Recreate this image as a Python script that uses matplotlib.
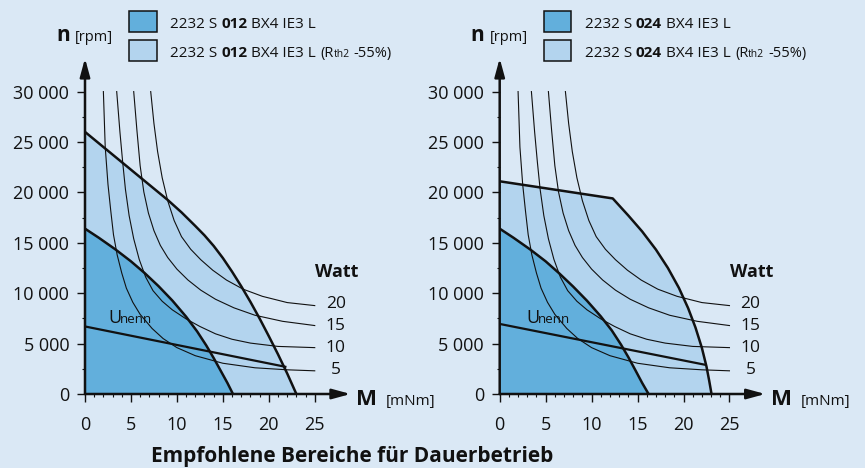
import matplotlib
matplotlib.use("Agg")
import matplotlib.pyplot as plt
from matplotlib.offsetbox import TextArea, HPacker, AnnotationBbox
from matplotlib.patches import Rectangle

plt.rcParams["font.family"] = ["Open Sans", "DejaVu Sans"]

BG = "#dae8f5"
LIGHT = "#b3d4ee"
DARK = "#62afdc"
INK = "#111111"

# Achsen
x_ticks = [0, 5, 10, 15, 20, 25]
x_minor = list(range(0, 26))
y_ticks = [0, 5000, 10000, 15000, 20000, 25000, 30000]
y_minor = [2500, 7500, 12500, 17500, 22500, 27500]
y_tick_labels = ["0", "5 000", "10 000", "15 000", "20 000", "25 000", "30 000"]

# 2232 S 012 BX4 IE3 L
m_light_012 = [0, 3, 6, 9, 10.5, 12, 13, 14, 15, 16, 17, 18, 19, 20, 21, 22, 23.0]
n_light_012 = [26000, 23750, 21500, 19250, 18020, 16670, 15740, 14690, 13490, 12140, 10690, 9140,
               7490, 5740, 3940, 2040, 0]
m_dark_012 = [0, 1.5, 3.3, 5, 6.5, 8, 9.5, 11, 12.2, 13.2, 14, 14.8, 15.5, 16.1]
n_dark_012 = [16400, 15500, 14350, 13160, 11990, 10700, 9275, 7670, 6210, 4810, 3570, 2250, 1090, 0]
m_unenn_012 = [0, 21.8]
n_unenn_012 = [6700, 2700]

# 2232 S 024 BX4 IE3 L
m_light_024 = [0, 12.3, 14, 15.5, 17, 18.3, 19.5, 20.5, 21.3, 22, 22.5, 22.8, 23.05]
n_light_024 = [21100, 19400, 17700, 16125, 14325, 12505, 10525, 8525, 6605, 4575, 2725, 1300, 0]
m_dark_024 = [0, 1.5, 3.3, 5, 6.5, 8, 9.5, 11, 12.2, 13.2, 14, 14.8, 15.5, 16.2]
n_dark_024 = [16400, 15500, 14350, 13160, 11950, 10650, 9250, 7700, 6300, 4900, 3650, 2300, 1100, 0]
m_unenn_024 = [0, 22.35]
n_unenn_024 = [6950, 2900]

# Leistungskurven (Watt)
watt_levels = [5, 10, 15, 20]
m_5w = [2.0, 2.2, 2.5, 2.8, 3.1, 3.5, 4.0, 4.5, 5.2, 6.0, 7.3, 8.5, 10, 12, 15, 18.5, 22, 25]
n_5w = [30000, 24500, 20800, 18200, 15800, 13800, 12000, 10500, 9100, 7900, 6500, 5500, 4600,
        3800, 3050, 2600, 2400, 2300]
m_10w = [3.45, 3.8, 4.1, 4.4, 4.8, 5.3, 5.9, 6.6, 7.4, 8.4, 9.5, 11, 12.5, 14.2, 16, 18, 21, 25]
n_10w = [30000, 26000, 23000, 20300, 17700, 15400, 13350, 11600, 10250, 9200, 8350, 7450, 6700,
         5970, 5430, 5050, 4720, 4600]
m_15w = [5.3, 5.65, 6.0, 6.4, 6.9, 7.5, 8.2, 9.0, 10.0, 11.2, 12.6, 14.2, 16.2, 18.5, 21.5, 25]
n_15w = [30000, 26150, 22650, 20050, 17950, 16210, 14740, 13540, 12390, 11310, 10300, 9400, 8550,
         7810, 7210, 6790]
m_20w = [7.15, 7.5, 7.9, 8.4, 9.0, 9.7, 10.5, 11.5, 12.6, 13.9, 15.4, 17.2, 19.3, 22, 25]
n_20w = [30000, 26850, 24050, 21450, 19170, 17210, 15610, 14360, 13320, 12280, 11300, 10400, 9690,
         9070, 8770]
watt_label_n = [2380, 4590, 6780, 8930]

title = "Empfohlene Bereiche für Dauerbetrieb"

W, H = 865, 468
XMAX, YMAX = 28.9, 33300

fig = plt.figure(figsize=(W / 100, H / 100), dpi=100, facecolor=BG)


def fpos(x, y):
    # Pixel (von oben links) -> figure fraction
    return x / W, 1 - y / H


def legend_label(code, rth):
    norm = dict(size=11, color=INK)
    parts = [TextArea("2232 S", textprops=norm),
             TextArea(code, textprops=dict(size=11, color=INK, weight="bold")),
             TextArea("BX4 IE3 L", textprops=norm)]
    if rth:
        parts.append(HPacker(children=[TextArea("(R", textprops=dict(size=10.5, color=INK)),
                                       TextArea("th2", textprops=dict(size=7.5, color=INK))],
                             align="baseline", pad=0, sep=0))
        parts.append(TextArea("-55%)", textprops=dict(size=10.5, color=INK)))
    return HPacker(children=parts, align="baseline", pad=0, sep=2.9)


def draw_panel(left, m_light, n_light, m_dark, n_dark, m_unenn, n_unenn, u_pos, code):
    ax = fig.add_axes([left / W, 74 / H, XMAX * 9.19 / W, YMAX / 99.2 / H])
    ax.set_facecolor("none")
    ax.set_xlim(0, XMAX)
    ax.set_ylim(0, YMAX)
    for s in ax.spines.values():
        s.set_visible(False)

    ax.fill_between(m_light, n_light, 0, color=LIGHT, lw=0, zorder=1)
    ax.fill_between(m_dark, n_dark, 0, color=DARK, lw=0, zorder=2)
    for m, n in [(m_5w, n_5w), (m_10w, n_10w), (m_15w, n_15w), (m_20w, n_20w)]:
        ax.plot(m, n, color=INK, lw=0.8, zorder=3)
    ax.plot(m_light, n_light, color=INK, lw=1.8, zorder=4)
    ax.plot(m_dark, n_dark, color=INK, lw=1.8, zorder=4)
    ax.plot(m_unenn, n_unenn, color=INK, lw=1.6, zorder=4)

    arrow = dict(arrowstyle="-|>,head_length=1.1,head_width=0.3", color=INK, lw=1.8,
                 shrinkA=0, shrinkB=0, mutation_scale=10)
    ax.annotate("", xy=(XMAX, 0), xytext=(0, 0), arrowprops=arrow, annotation_clip=False, zorder=6)
    ax.annotate("", xy=(0, YMAX), xytext=(0, 0), arrowprops=arrow, annotation_clip=False, zorder=6)

    ax.set_xticks(x_ticks)
    ax.set_xticks(x_minor, minor=True)
    ax.set_yticks(y_ticks)
    ax.set_yticks(y_minor, minor=True)
    ax.set_yticklabels(y_tick_labels)
    ax.tick_params(which="major", direction="out", length=5.8, width=1.0, color=INK,
                   labelsize=13, labelcolor=INK)
    ax.tick_params(which="minor", direction="out", length=2.4, width=0.8, color=INK)
    ax.tick_params(axis="x", which="major", pad=10)
    ax.tick_params(axis="y", which="major", pad=5.5)

    # Watt Beschriftung
    ax.text(27.37, 12130, "Watt", ha="center", va="center", fontsize=13, fontweight="bold",
            color=INK, clip_on=False)
    for w, n in zip(watt_levels, watt_label_n):
        ax.text(27.3, n, str(w), ha="center", va="center", fontsize=12.5, color=INK, clip_on=False)

    # U nenn
    ax.text(u_pos[0], u_pos[2], "U", fontsize=13, va="baseline", color=INK)
    ax.text(u_pos[1], u_pos[2], "nenn", fontsize=9.5, va="baseline", color=INK)

    # Achsenbeschriftung
    x0 = left - 85
    fig.text(*fpos(x0 + 56, 40.7), "n", fontsize=15, fontweight="bold", va="baseline", color=INK)
    fig.text(*fpos(x0 + 75, 40.7), "[rpm]", fontsize=10.5, va="baseline", color=INK)
    fig.text(*fpos(x0 + 356, 405), "M", fontsize=16, fontweight="bold", va="baseline", color=INK)
    fig.text(*fpos(x0 + 386, 405), "[mNm]", fontsize=11, va="baseline", color=INK)

    # Legende
    for (y_top, y_bot, fc, rth, y_txt) in [(10.7, 31.7, DARK, False, 24.3), (40, 60.7, LIGHT, True, 53.5)]:
        bx, by = fpos(x0 + 129.3, y_bot)
        fig.add_artist(Rectangle((bx, by), 27.4 / W, (y_bot - y_top) / H, transform=fig.transFigure,
                                 facecolor=fc, edgecolor=INK, lw=1.1))
        ab = AnnotationBbox(legend_label(code, rth), fpos(x0 + 170, y_txt), xycoords="figure fraction",
                            box_alignment=(0, 0.5), frameon=False, pad=0)
        fig.add_artist(ab)
    return ax


draw_panel(85, m_light_012, n_light_012, m_dark_012, n_dark_012, m_unenn_012, n_unenn_012,
           (2.54, 3.8, 7010), "012")
draw_panel(499.7, m_light_024, n_light_024, m_dark_024, n_dark_024, m_unenn_024, n_unenn_024,
           (2.86, 4.12, 7070), "024")

fig.text(*fpos(352, 462), title, ha="center", va="baseline", fontsize=15, fontweight="bold", color=INK)

fig.savefig("out.png", dpi=100, facecolor=BG)
